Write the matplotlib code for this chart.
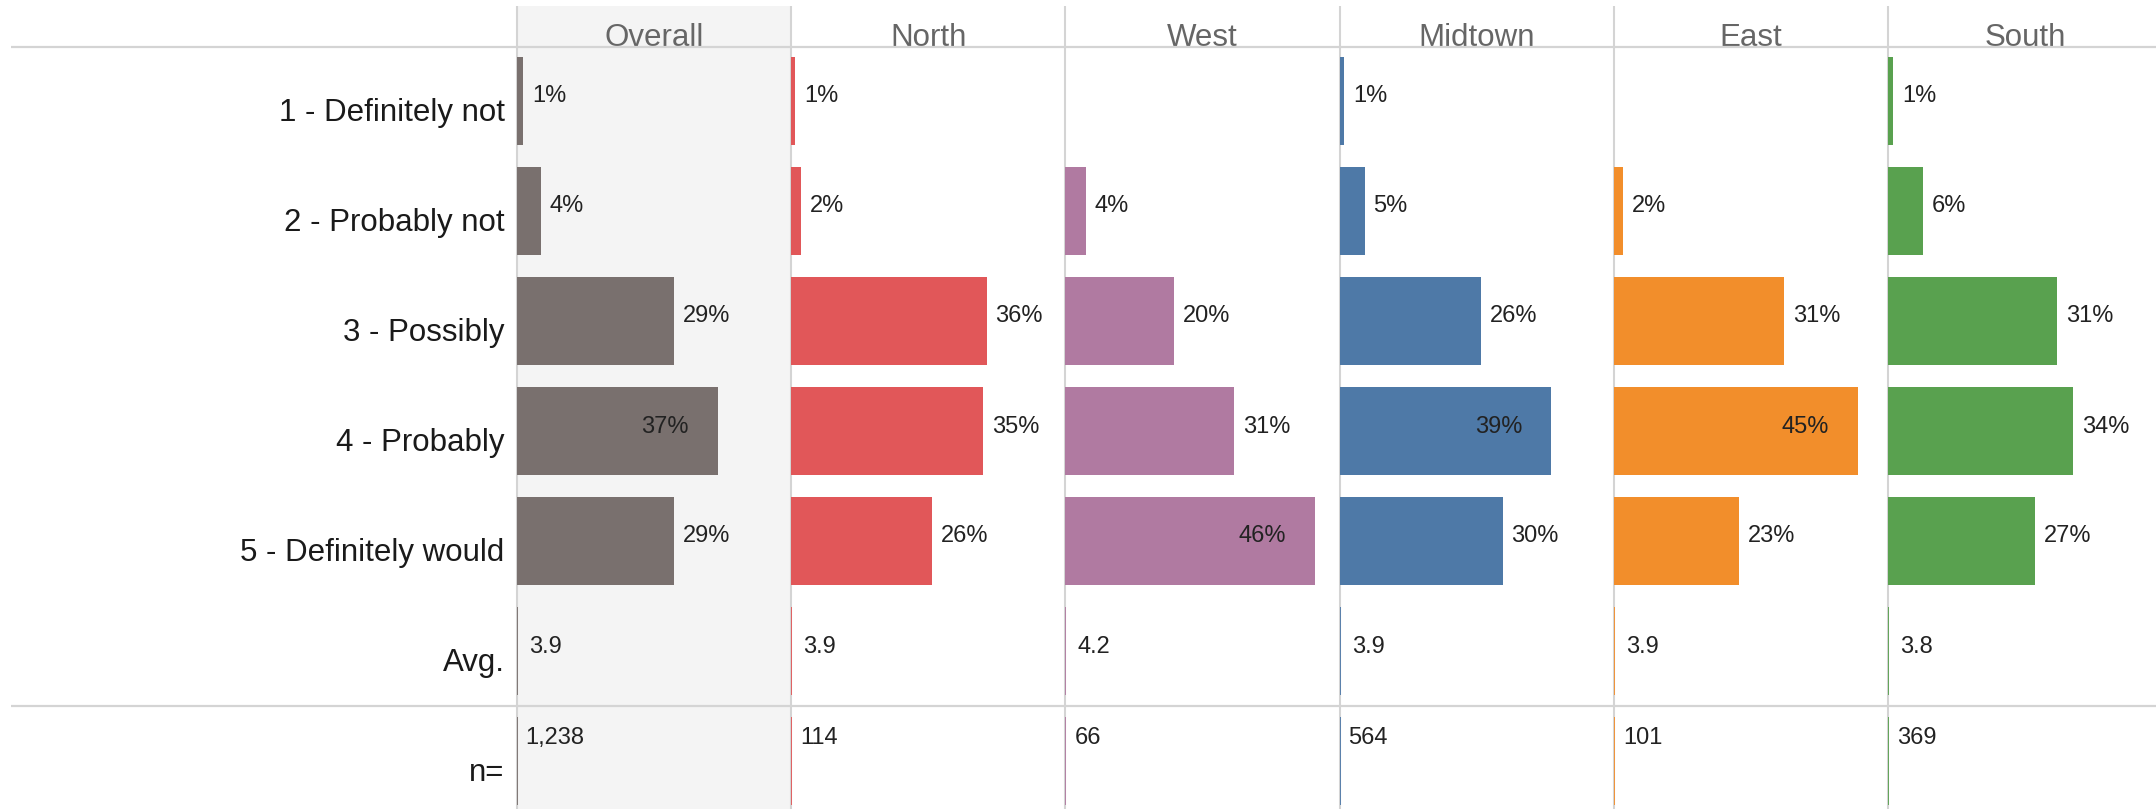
import matplotlib
matplotlib.use("Agg")
import matplotlib.pyplot as plt
from matplotlib.transforms import offset_copy
from matplotlib.patches import Rectangle

plt.rcParams['font.family'] = ['Liberation Sans', 'DejaVu Sans']

# ---- data ----
responses = ["1 - Definitely not", "2 - Probably not", "3 - Possibly",
             "4 - Probably", "5 - Definitely would"]
extra_rows = ["Avg.", "n="]
groups = ["Overall", "North", "West", "Midtown", "East", "South"]
colors = ["#79706E", "#E15759", "#B07AA1", "#4E79A7", "#F28E2B", "#59A14F"]

overall = [1.2, 4.4, 29, 37, 29]
north = [0.7, 1.8, 36, 35.4, 26]
west = [0, 3.8, 20, 31, 46]
midtown = [0.8, 4.6, 26, 39, 30]
east = [0, 1.6, 31.4, 45, 23]
south = [0.9, 6.4, 31, 34, 27]
series = [overall, north, west, midtown, east, south]

averages = ["3.9", "3.9", "4.2", "3.9", "3.9", "3.8"]
counts = ["1,238", "114", "66", "564", "101", "369"]

# ---- layout (pixels) ----
W, H = 2156, 809
DPI = 100
col_left = 516.7
col_w = 274.3
top_px = 46.0
row0_px = 100.5
row_h = 110.0

fig = plt.figure(figsize=(W / DPI, H / DPI), dpi=DPI)
fig.patch.set_facecolor("white")

grid_c = "#d4d4d4"

# background axes
bg = fig.add_axes([0, 0, 1, 1], zorder=0)
bg.set_xlim(0, W)
bg.set_ylim(H, 0)
bg.axis("off")
bg.add_patch(Rectangle((col_left, 6), col_w, H, color="#F4F4F4", lw=0))
for i in range(len(groups)):
    bg.vlines(col_left + i * col_w, 6, H, color=grid_c, lw=1.5)

ymin = (H - row0_px) / row_h
ymax = (top_px - row0_px) / row_h

axes = []
for i, (g, vals, c) in enumerate(zip(groups, series, colors)):
    left = (col_left + i * col_w) / W
    ax = fig.add_axes([left, 0, col_w / W, (H - top_px) / H], zorder=1)
    ax.patch.set_alpha(0)
    ax.set_xlim(0, 50.5)
    ax.set_ylim(ymin, ymax)
    ax.axis("off")
    axes.append(ax)

    ypos = list(range(len(responses)))
    ax.barh(ypos, vals, height=0.8, color=c, lw=0)
    for y, v in zip(ypos, vals):
        if v <= 0:
            continue
        lab = f"{v:.0f}%"
        if v >= 37:
            tr = offset_copy(ax.transData, fig=fig, x=-29, y=-2, units="dots")
            ax.text(v, y, lab, transform=tr, ha="right", va="baseline",
                    fontsize=17, color="#222222")
        else:
            tr = offset_copy(ax.transData, fig=fig, x=9, y=-2, units="dots")
            ax.text(v, y, lab, transform=tr, ha="left", va="baseline",
                    fontsize=17, color="#222222")

    # Avg row
    ya = len(responses)
    ax.vlines(0, ya - 0.4, ya + 0.4, color=c, lw=1.3)
    tr = offset_copy(ax.transData, fig=fig, x=12, y=-2.5, units="dots")
    ax.text(0, ya, averages[i], transform=tr, ha="left", va="baseline",
            fontsize=17, color="#222222")

    # n row
    yn = len(responses) + 1
    ax.vlines(0, yn - 0.4, yn + 0.4, color=c, lw=1.3)
    tr = offset_copy(ax.transData, fig=fig, x=9, y=16.5, units="dots")
    ax.text(0, yn, counts[i], transform=tr, ha="left", va="baseline",
            fontsize=17, color="#222222")

    # header
    trh = offset_copy(ax.transAxes, fig=fig, x=0, y=0, units="dots")
    ax.text(0.5, 1.0, g, transform=trh, ha="center", va="baseline",
            fontsize=22.5, color="#666666", clip_on=False)

# row labels
ax0 = axes[0]
labels = responses + extra_rows
for y, lab in enumerate(labels):
    tr = offset_copy(ax0.get_yaxis_transform(), fig=fig, x=-12, y=-20, units="dots")
    ax0.text(0, y, lab, transform=tr, ha="right", va="baseline",
             fontsize=22.5, color="#1a1a1a")

# overlay horizontal rules
top = fig.add_axes([0, 0, 1, 1], zorder=3)
top.patch.set_alpha(0)
top.set_xlim(0, W)
top.set_ylim(H, 0)
top.axis("off")
top.hlines(46.7, 11, W, color=grid_c, lw=1.6)
top.hlines(row0_px + 5.5 * row_h, 11, W, color=grid_c, lw=1.6)

fig.savefig("out.png", dpi=DPI, facecolor="white")
